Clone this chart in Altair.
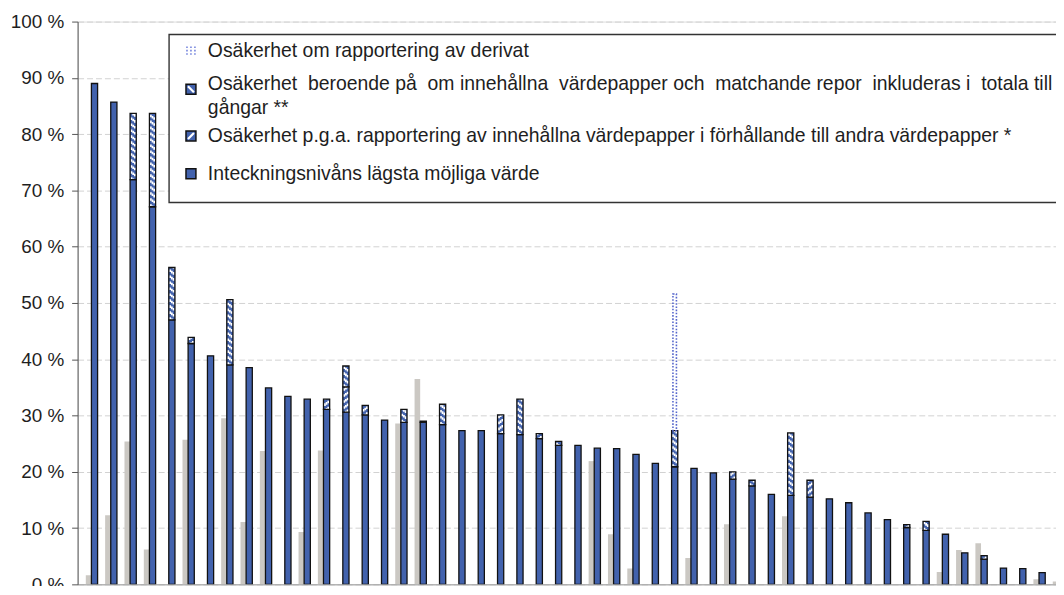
import altair as alt
import pandas as pd

# ---------------- data ----------------
# lowest possible encumbrance level (blue base bar), per bank
base = [89.0, 85.7, 71.9, 67.1, 47.0, 42.8, 40.6, 39.0, 38.5, 34.9,
        33.4, 32.9, 31.1, 30.6, 30.1, 29.2, 28.8, 28.8, 28.4, 27.3,
        27.3, 26.8, 26.6, 25.9, 24.7, 24.7, 24.2, 24.1, 23.1, 21.5,
        20.9, 20.6, 19.8, 18.7, 17.5, 16.0, 15.8, 15.5, 15.2, 14.5,
        12.7, 11.5, 10.1, 9.6, 8.9, 5.6, 4.5, 2.9, 2.8, 2.1]
# uncertainty p.g.a. reporting of held securities vs other securities (*)
pga = [0, 0, 0, 0, 0, 1.1, 0, 0, 0, 0,
       0, 0, 1.8, 4.5, 1.7, 0, 0, 0.2, 0, 0,
       0, 3.3, 0, 0.9, 0, 0, 0, 0, 0, 0,
       0, 0, 0, 1.3, 0, 0, 0, 3.0, 0, 0,
       0, 0, 0.5, 0, 0, 0, 0.6, 0, 0, 0]
# uncertainty depending on whether held securities / matching repos are included (**)
ber = [0, 0, 11.8, 16.6, 9.3, 0, 0, 11.6, 0, 0,
       0, 0, 0, 3.7, 0, 0, 2.3, 0, 3.6, 0,
       0, 0, 6.3, 0, 0.7, 0, 0, 0, 0, 0,
       6.4, 0, 0, 0, 1.0, 0, 11.1, 0, 0, 0,
       0, 0, 0, 1.6, 0, 0, 0, 0, 0, 0]
# uncertainty about derivative reporting
deriv = [0] * 30 + [24.3] + [0] * 19
# grey comparison bars
grey = [1.6, 12.3, 25.4, 6.2, 0, 25.7, 0, 29.5, 11.1, 23.7,
        0, 9.3, 23.8, 0, 0, 0, 28.6, 36.5, 0, 0,
        0, 0, 0, 0, 0, 0, 21.9, 8.9, 2.8, 0,
        0, 4.7, 0, 10.7, 0, 0, 12.1, 0, 0, 0,
        0, 0, 0, 0, 2.2, 6.1, 7.3, 0, 0, 0.9,
        0.5]

yticks = [0, 10, 20, 30, 40, 50, 60, 70, 80, 90, 100]

legend_labels = [
    "Osäkerhet om rapportering av derivat",
    "Osäkerhet beroende på om innehållna värdepapper och matchande repor inkluderas i totala till",
    "gångar **",
    "Osäkerhet p.g.a. rapportering av innehållna värdepapper i förhållande till andra värdepapper *",
    "Inteckningsnivåns lägsta möjliga värde",
]

# ---------------- styling ----------------
BLUE = "#4262ad"
GREY = "#cbc8c3"
DOTBLUE = "#5566cc"
FONT = "Liberation Sans"
TXT = "#1e1e1e"

STEP_PX = 19.45
PLOT_W = 984
PLOT_H = 566
d0 = 1 - 17 / STEP_PX
d1 = d0 + PLOT_W / STEP_PX

xs = alt.Scale(domain=[d0, d1], nice=False, zero=False)
ys = alt.Scale(domain=[0, 100], nice=False, zero=True)

yaxis = alt.Axis(values=yticks, labelExpr="datum.value + ' %'", title=None,
                 tickSize=6, labelPadding=8, labelFontSize=19, labelFont=FONT,
                 labelColor=TXT, domainColor="#555", tickColor="#555",
                 grid=True, gridColor="#d2d2d2", gridDash=[6, 3], gridWidth=1)
xaxis = alt.Axis(labels=False, ticks=False, title=None, grid=False,
                 domainColor="#9a9a9a")

N = len(base)
bdf = pd.DataFrame({"i": list(range(1, N + 1)), "base": base, "pga": pga,
                    "ber": ber, "deriv": deriv})
bdf["pga_lo"] = bdf["base"]
bdf["pga_hi"] = bdf["base"] + bdf["pga"]
bdf["ber_lo"] = bdf["pga_hi"]
bdf["ber_hi"] = bdf["pga_hi"] + bdf["ber"]
bdf["der_lo"] = bdf["ber_hi"]
bdf["der_hi"] = bdf["ber_hi"] + bdf["deriv"]
gdf = pd.DataFrame({"i": list(range(1, len(grey) + 1)), "grey": grey})

HW = 0.16  # half width of blue bars in steps

grey_layer = alt.Chart(gdf).transform_filter("datum.grey > 0").transform_calculate(
    xa=f"datum.i - {HW} - 0.29", xb=f"datum.i - {HW}", zero="0"
).mark_rect(color=GREY, clip=True).encode(
    x=alt.X("xa:Q", scale=xs, axis=xaxis), x2="xb:Q",
    y=alt.Y("grey:Q", scale=ys, axis=yaxis), y2="zero:Q")

bchart = alt.Chart(bdf).transform_calculate(
    xa=f"datum.i - {HW}", xb=f"datum.i + {HW}", xc="datum.i",
    dl="datum.i - 0.09", dr="datum.i + 0.09", zero="0")

base_layer = bchart.mark_rect(fill=BLUE, stroke="#111", strokeWidth=1.3, clip=True).encode(
    x=alt.X("xa:Q", scale=xs, axis=xaxis), x2="xb:Q",
    y=alt.Y("base:Q", scale=ys, axis=yaxis), y2="zero:Q")


def seg_layers(lo, hi, flt, slope):
    """Blue segment with diagonal white hatching (built from offset dash columns)."""
    c = bchart.transform_filter(flt)
    layers = [c.mark_rect(fill=BLUE, strokeWidth=0, clip=True).encode(
        x=alt.X("xa:Q", scale=xs, axis=xaxis), x2="xb:Q",
        y=alt.Y(f"{lo}:Q", scale=ys, axis=yaxis), y2=f"{hi}:Q")]
    for k, off in enumerate([-1.7, 0.0, 1.7]):
        doff = (k if slope == "down" else 2 - k) * 1.3
        layers.append(c.mark_rule(color="white", strokeWidth=1.8, strokeDash=[2.6, 3.4],
                                  strokeDashOffset=doff, xOffset=off, clip=True).encode(
            x=alt.X("xc:Q", scale=xs, axis=xaxis),
            y=alt.Y(f"{lo}:Q", scale=ys, axis=yaxis), y2=f"{hi}:Q"))
    layers.append(c.mark_rect(fill="white", fillOpacity=0, stroke="#111", strokeWidth=1.3,
                              clip=True).encode(
        x=alt.X("xa:Q", scale=xs, axis=xaxis), x2="xb:Q",
        y=alt.Y(f"{lo}:Q", scale=ys, axis=yaxis), y2=f"{hi}:Q"))
    return layers


pga_layers = seg_layers("pga_lo", "pga_hi", "datum.pga > 0", "up")
ber_layers = seg_layers("ber_lo", "ber_hi", "datum.ber > 0", "down")

deriv_layer = bchart.transform_filter("datum.deriv > 0").mark_rect(
    fill="white", fillOpacity=0, stroke=DOTBLUE, strokeWidth=1.6,
    strokeDash=[1.6, 1.6], clip=True).encode(
    x=alt.X("dl:Q", scale=xs, axis=xaxis), x2="dr:Q",
    y=alt.Y("der_lo:Q", scale=ys, axis=yaxis), y2="der_hi:Q")

# ---------------- legend (drawn box, running off the right edge) ----------------
one = pd.DataFrame({"k": [0]})
L = []
L.append(alt.Chart(one).mark_rect(fill="white", stroke="#333", strokeWidth=1.4).encode(
    x=alt.value(92), x2=alt.value(1040), y=alt.value(13), y2=alt.value(182)))

text_y = [30, 63, 87, 115, 153]
label_texts = list(legend_labels)
# justified second line: widen some word gaps with non-breaking spaces
w = label_texts[1].split(" ")
wide_gaps = {0, 2, 4, 6, 8, 10}
s = w[0]
for g, word in enumerate(w[1:]):
    s += ("\u00a0\u00a0" if g in wide_gaps else "\u00a0") + word
label_texts[1] = s
for t, yy in zip(label_texts, text_y):
    L.append(alt.Chart(one).mark_text(align="left", baseline="middle", fontSize=19.5,
                                      font=FONT, color=TXT).encode(
        x=alt.value(131), y=alt.value(yy), text=alt.value(t)))

# symbol: derivative (dotted)
for xx in [110, 114, 118]:
    L.append(alt.Chart(one).mark_rule(color="#7585dd", strokeWidth=1.6,
                                      strokeDash=[1.6, 1.8]).encode(
        x=alt.value(xx), y=alt.value(25), y2=alt.value(35)))
# symbols: hatched (beroende **, p.g.a. *) and solid
for yy, diag in [(68, "down"), (115, "up"), (153, None)]:
    L.append(alt.Chart(one).mark_rect(fill=BLUE, stroke="#111", strokeWidth=1.5).encode(
        x=alt.value(109), x2=alt.value(119), y=alt.value(yy - 5), y2=alt.value(yy + 5)))
    if diag == "down":
        L.append(alt.Chart(one).mark_rule(color="white", strokeWidth=2.2).encode(
            x=alt.value(111), x2=alt.value(117), y=alt.value(yy - 3), y2=alt.value(yy + 3)))
    elif diag == "up":
        L.append(alt.Chart(one).mark_rule(color="white", strokeWidth=2.2).encode(
            x=alt.value(111), x2=alt.value(117), y=alt.value(yy + 3), y2=alt.value(yy - 3)))

chart = alt.layer(
    grey_layer, base_layer, *pga_layers, *ber_layers, deriv_layer, *L
).properties(
    width=PLOT_W, height=PLOT_H,
    autosize=alt.AutoSizeParams(type="none"),
    padding={"left": 70, "top": 12, "right": 0, "bottom": 0},
).configure_view(strokeWidth=0).configure(background="white")

chart.save("out.html", embed_options={"renderer": "svg", "actions": False})
